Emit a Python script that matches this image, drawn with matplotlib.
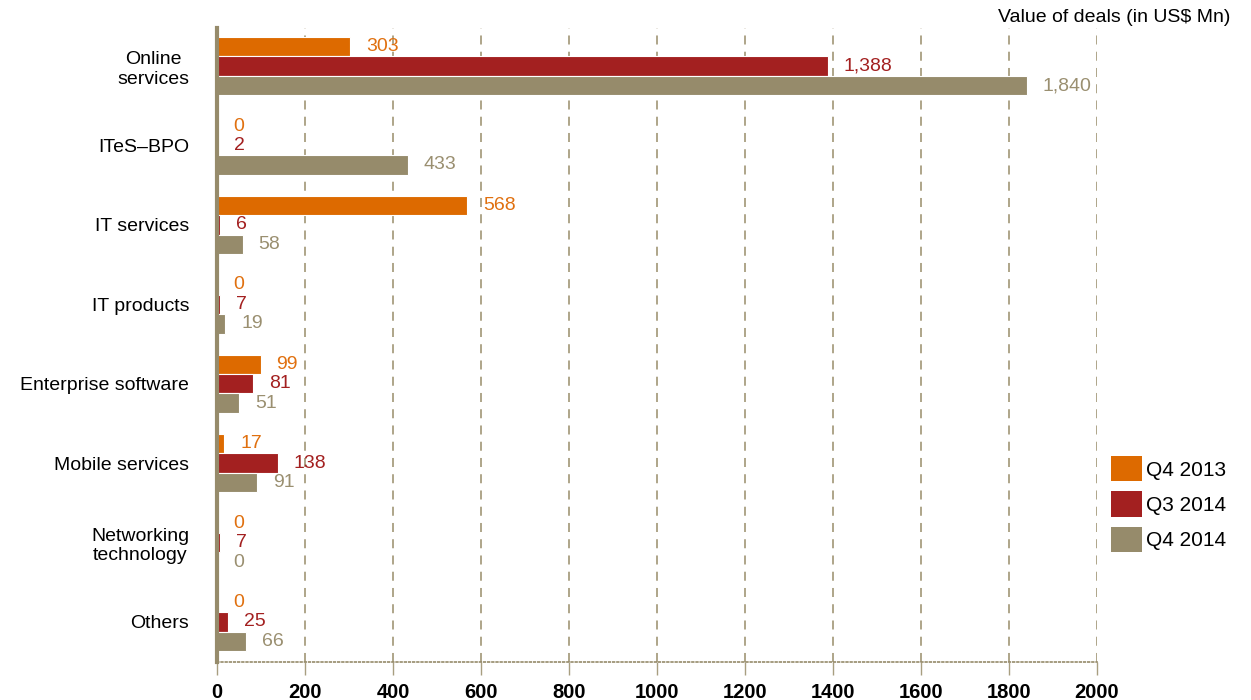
import matplotlib
matplotlib.use("Agg")
import matplotlib.pyplot as plt
from matplotlib.patches import Patch
import matplotlib.transforms as mtransforms
import numpy as np

plt.rcParams['font.family'] = ['Liberation Sans', 'DejaVu Sans']

categories = ["Online\nservices", "ITeS\u2013BPO", "IT services", "IT products",
              "Enterprise software", "Mobile services", "Networking\ntechnology", "Others"]
series_names = ["Q4 2013", "Q3 2014", "Q4 2014"]
q4_2013 = [303, 0, 568, 0, 99, 17, 0, 0]
q3_2014 = [1388, 2, 6, 7, 81, 138, 7, 25]
q4_2014 = [1840, 433, 58, 19, 51, 91, 0, 66]
bar_colors = ["#DD6A00", "#A32020", "#968B6B"]
label_colors = ["#E0700F", "#A32020", "#9A8F70"]
xticks = [0, 200, 400, 600, 800, 1000, 1200, 1400, 1600, 1800, 2000]

fig = plt.figure(figsize=(12.51, 7.0), dpi=100)
ax = fig.add_axes([217/1251, 1-662/700, (1097-217)/1251, (662-28)/700])

y = np.arange(len(categories))
h = 0.245
series = [q4_2013, q3_2014, q4_2014]
offsets = [-h, 0, h]
offset_tr = mtransforms.offset_copy(ax.transData, fig=fig, x=16, y=0, units='dots')
for vals, off, c, lc in zip(series, offsets, bar_colors, label_colors):
    ax.barh(y + off, vals, height=h, color=c, edgecolor='white', linewidth=0.8, zorder=3)
    for yi, v in zip(y + off, vals):
        ax.text(v, yi, f"{v:,}", transform=offset_tr, color=lc, fontsize=14,
                va='center', ha='left', zorder=4)

ax.set_xlim(0, 2000)
ax.set_ylim(len(categories) - 1 + 0.504, -0.48)
ax.set_yticks(y)
ax.set_yticklabels(categories, fontsize=14, multialignment='center')
ax.tick_params(axis='y', length=0, pad=20)
ax.set_xticks(xticks)
ax.set_xticklabels([str(t) for t in xticks], fontsize=14.5, fontweight='bold')
ax.tick_params(axis='x', length=9, width=1, color='#A89E80', pad=6)
for t in ax.xaxis.get_ticklines():
    t.set_linestyle((0, (2, 2)))

ax.grid(axis='x', color='#A89E80', linestyle=(0, (5, 4)), linewidth=1.3, zorder=0)
ax.grid(axis='y', visible=False)
for s in ['top', 'right']:
    ax.spines[s].set_visible(False)
ax.spines['left'].set_color('#968B6B')
ax.spines['left'].set_linewidth(3)
ax.spines['left'].set_zorder(5)
ax.spines['bottom'].set_color('#968B6B')
ax.spines['bottom'].set_linestyle((0, (1, 1.5)))
ax.spines['bottom'].set_linewidth(1.2)

fig.text(1230/1251, 1-17/700, "Value of deals (in US$ Mn)", fontsize=14,
         ha='right', va='center')

handles = [Patch(facecolor=c, edgecolor='none') for c in bar_colors]
fig.legend(handles, series_names, loc='upper left', bbox_to_anchor=(1111/1251, 1-456/700),
           frameon=False, fontsize=15, handlelength=1.5, handleheight=1.5,
           handletextpad=0.2, labelspacing=0.48, borderaxespad=0, borderpad=0)

fig.savefig("out.png", dpi=100)
